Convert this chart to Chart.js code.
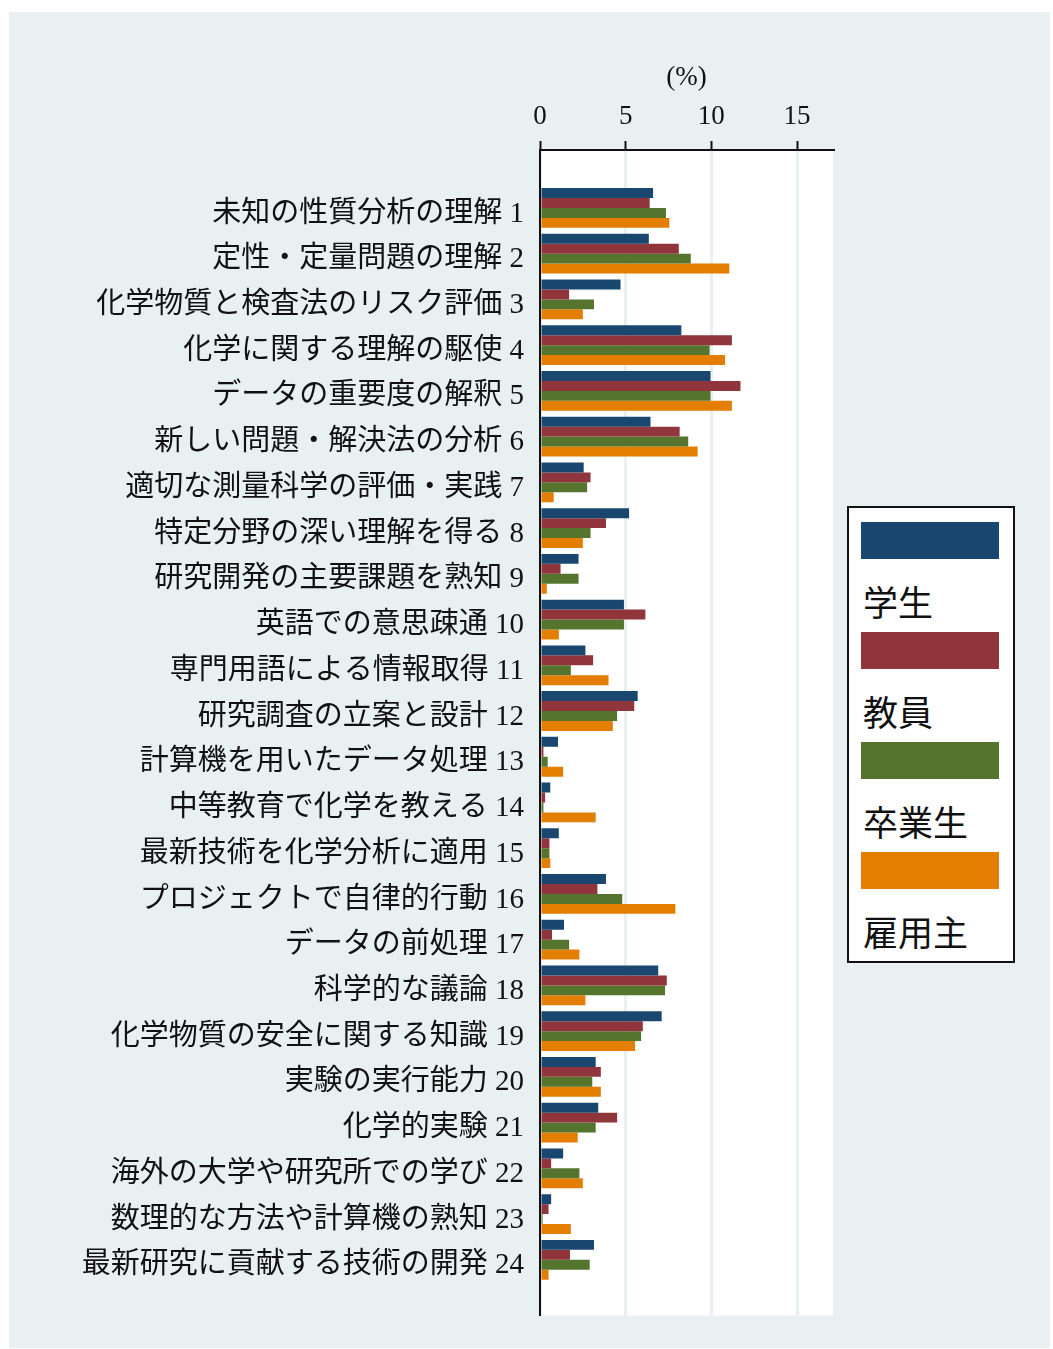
<!DOCTYPE html>
<html>
<head>
<meta charset="utf-8">
<script src="https://cdn.jsdelivr.net/npm/chart.js@4"></script>
<style>
  body { margin: 0; background: #ffffff; }
  #panel { position: absolute; left: 9px; top: 12px; width: 1041px; height: 1336px; background: #e8f0f2; }
  #wrap { position: absolute; left: 0; top: 0; width: 1053px; height: 1349px; }
  #legend { position: absolute; left: 847px; top: 506px; width: 164px; height: 453px; background: #fff; border: 2px solid #111; }
  .item { position: absolute; left: 12px; }
  .swatch { width: 138px; height: 37px; }
  .lbl { font-family: "Noto Sans CJK JP", sans-serif; font-size: 35px; color: #111; line-height: 1; margin-top: 24px; margin-left: 2px; }
</style>
</head>
<body>
<div id="panel"></div>
<div id="wrap"><canvas id="chart"></canvas></div>
<div id="legend"></div>
<script>
const categories = [
  '未知の性質分析の理解',
  '定性・定量問題の理解',
  '化学物質と検査法のリスク評価',
  '化学に関する理解の駆使',
  'データの重要度の解釈',
  '新しい問題・解決法の分析',
  '適切な測量科学の評価・実践',
  '特定分野の深い理解を得る',
  '研究開発の主要課題を熟知',
  '英語での意思疎通',
  '専門用語による情報取得',
  '研究調査の立案と設計',
  '計算機を用いたデータ処理',
  '中等教育で化学を教える',
  '最新技術を化学分析に適用',
  'プロジェクトで自律的行動',
  'データの前処理',
  '科学的な議論',
  '化学物質の安全に関する知識',
  '実験の実行能力',
  '化学的実験',
  '海外の大学や研究所での学び',
  '数理的な方法や計算機の熟知',
  '最新研究に貢献する技術の開発'
];
const seriesNames = ['学生', '教員', '卒業生', '雇用主'];
const students  = [6.6, 6.35, 4.7, 8.25, 9.95, 6.45, 2.55, 5.2, 2.25, 4.9, 2.65, 5.7, 1.05, 0.6, 1.1, 3.85, 1.4, 6.9, 7.1, 3.25, 3.4, 1.35, 0.65, 3.15];
const teachers  = [6.4, 8.1, 1.7, 11.2, 11.7, 8.15, 2.95, 3.85, 1.2, 6.15, 3.1, 5.5, 0.2, 0.3, 0.55, 3.35, 0.7, 7.4, 6.0, 3.55, 4.5, 0.65, 0.5, 1.75];
const graduates = [7.35, 8.8, 3.15, 9.9, 9.95, 8.65, 2.75, 2.95, 2.25, 4.9, 1.8, 4.5, 0.45, 0.2, 0.55, 4.8, 1.7, 7.3, 5.9, 3.05, 3.25, 2.3, 0.15, 2.9];
const employers = [7.55, 11.05, 2.5, 10.8, 11.2, 9.2, 0.8, 2.5, 0.4, 1.1, 4.0, 4.25, 1.35, 3.25, 0.6, 7.9, 2.3, 2.65, 5.55, 3.55, 2.2, 2.5, 1.8, 0.5];
const xTicks = [0, 5, 10, 15];
const colors = ['#1a476f', '#90353b', '#55752f', '#e37e00'];

const serif = '"Liberation Serif", "Noto Sans CJK JP", serif';

// bars sit on a numeric y scale so the category band can have the extra margin of the original
const toPoints = arr => arr.map((v, i) => ({ x: v, y: i + 1 }));

const plotBg = {
  id: 'plotBg',
  beforeDraw(chart) {
    const { ctx, chartArea: a } = chart;
    ctx.save();
    ctx.fillStyle = '#ffffff';
    ctx.fillRect(a.left, a.top, a.right - a.left, a.bottom - a.top);
    ctx.restore();
  }
};

new Chart(document.getElementById('chart'), {
  type: 'bar',
  data: {
    datasets: [students, teachers, graduates, employers].map((arr, i) => ({
      label: seriesNames[i],
      data: toPoints(arr),
      backgroundColor: colors[i],
      borderWidth: 0,
      categoryPercentage: 0.87,
      barPercentage: 1.0
    }))
  },
  options: {
    indexAxis: 'y',
    responsive: true,
    maintainAspectRatio: false,
    animation: false,
    layout: { padding: { top: 0, left: 0, right: 220, bottom: 29 } },
    scales: {
      x: {
        type: 'linear',
        position: 'top',
        min: 0,
        max: 17.1,
        afterBuildTicks: s => { s.ticks = xTicks.map(v => ({ value: v })); },
        afterFit: s => { s.height = 150; },
        title: {
          display: true,
          text: '(%)',
          color: '#111',
          font: { family: serif, size: 27 },
          padding: { top: 62, bottom: 0 }
        },
        ticks: {
          color: '#111',
          padding: 8,
          font: { family: serif, size: 27 }
        },
        grid: {
          color: '#e8f0f2',
          lineWidth: 3,
          tickColor: '#111',
          tickLength: 9,
          tickWidth: 2
        },
        border: { display: true, color: '#111', width: 2 }
      },
      y: {
        type: 'linear',
        reverse: true,
        offset: false,
        min: -0.267,
        max: 25.22,
        afterBuildTicks: s => { s.ticks = categories.map((c, i) => ({ value: i + 1 })); },
        afterFit: s => { s.width = 540; },
        ticks: {
          color: '#111',
          padding: 16,
          labelOffset: 6,
          font: { family: serif, size: 29 },
          callback: v => categories[v - 1] + ' ' + v
        },
        grid: { display: false, drawTicks: false },
        border: { display: true, color: '#111', width: 2 }
      }
    },
    plugins: {
      legend: { display: false },
      tooltip: { enabled: false }
    }
  },
  plugins: [plotBg]
});

// legend: swatch above each name, as in the original
const legend = document.getElementById('legend');
seriesNames.forEach((name, i) => {
  const item = document.createElement('div');
  item.className = 'item';
  item.style.top = (14 + i * 110) + 'px';
  item.innerHTML = '<div class="swatch" style="background:' + colors[i] + '"></div><div class="lbl">' + name + '</div>';
  legend.appendChild(item);
});
</script>
</body>
</html>
